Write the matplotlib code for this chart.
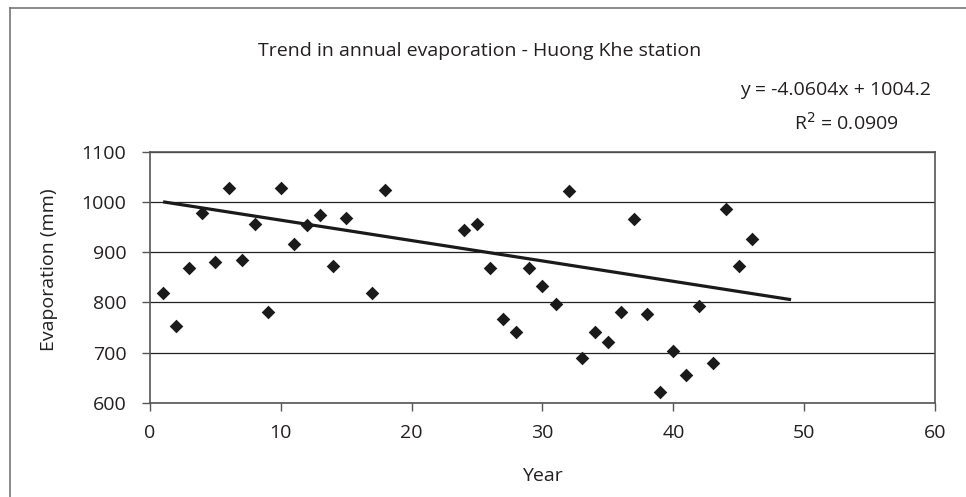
import matplotlib.pyplot as plt
import numpy as np
from matplotlib.lines import Line2D

# data
years = [1, 2, 3, 4, 5, 6, 7, 8, 9, 10, 11, 12, 13, 14, 15, 17, 18,
         24, 25, 26, 27, 28, 29, 30, 31, 32, 33, 34, 35, 36, 37, 38, 39,
         40, 41, 42, 43, 44, 45, 46]
evap = [818, 753, 868, 977, 880, 1028, 884, 955, 781, 1028, 916, 953, 974, 872, 967, 818, 1024,
        945, 956, 868, 767, 741, 868, 832, 796, 1021, 690, 741, 720, 781, 966, 777, 621,
        702, 655, 793, 680, 985, 872, 927]

slope = -4.0604
intercept = 1004.2
r2 = 0.0909
trend_x = [1, 49]

x_ticks = [0, 10, 20, 30, 40, 50, 60]
y_ticks = [600, 700, 800, 900, 1000, 1100]

plt.rcParams['font.family'] = ['Open Sans', 'DejaVu Sans']
txt = '#231f20'

W, H = 966, 497
fig = plt.figure(figsize=(W / 100, H / 100), dpi=100)
ax = fig.add_axes([150 / W, 1 - 402.7 / H, 785 / W, 251 / H])

# outer frame (left and top edges only visible)
fig.add_artist(Line2D([10 / W, 10 / W], [0, 1 - 8 / H], transform=fig.transFigure, color='#777777', lw=1.2))
fig.add_artist(Line2D([10 / W, 1], [1 - 8 / H, 1 - 8 / H], transform=fig.transFigure, color='#777777', lw=1.2))

ax.grid(axis='y', color='#222222', lw=0.9)
ax.set_axisbelow(True)
ax.scatter(years, evap, marker='D', s=48, color='#1a1a1a', zorder=3, linewidths=0)
tx = np.array(trend_x)
ax.plot(tx, slope * tx + intercept, color='#1a1a1a', lw=2.3, zorder=4, solid_capstyle='butt')

ax.set_xlim(0, 60)
ax.set_ylim(600, 1100)
ax.set_xticks(x_ticks)
ax.set_yticks(y_ticks)
ax.tick_params(direction='out', length=6, width=1, color='#555555', labelsize=14, labelcolor=txt)
ax.tick_params(axis='y', pad=11)
ax.tick_params(axis='x', pad=9)
for s in ax.spines.values():
    s.set_color('#555555')
    s.set_linewidth(1.2)

fig.text(480 / W, 1 - 56.5 / H, 'Trend in annual evaporation - Huong Khe station',
         ha='center', va='baseline', fontsize=14, color=txt)
fig.text(836 / W, 1 - 95 / H, 'y = -4.0604x + 1004.2', ha='center', va='baseline', fontsize=14, color=txt)
fig.text(846 / W, 1 - 130 / H, 'R$^{2}$ = %.4f' % r2, ha='center', va='baseline', fontsize=14, color=txt)
fig.text(542 / W, 1 - 481 / H, 'Year', ha='center', va='baseline', fontsize=14, color=txt)
fig.text(49 / W, 1 - 270 / H, 'Evaporation (mm)', ha='center', va='center', rotation=90, fontsize=14, color=txt)

fig.savefig('out.png', dpi=100)
